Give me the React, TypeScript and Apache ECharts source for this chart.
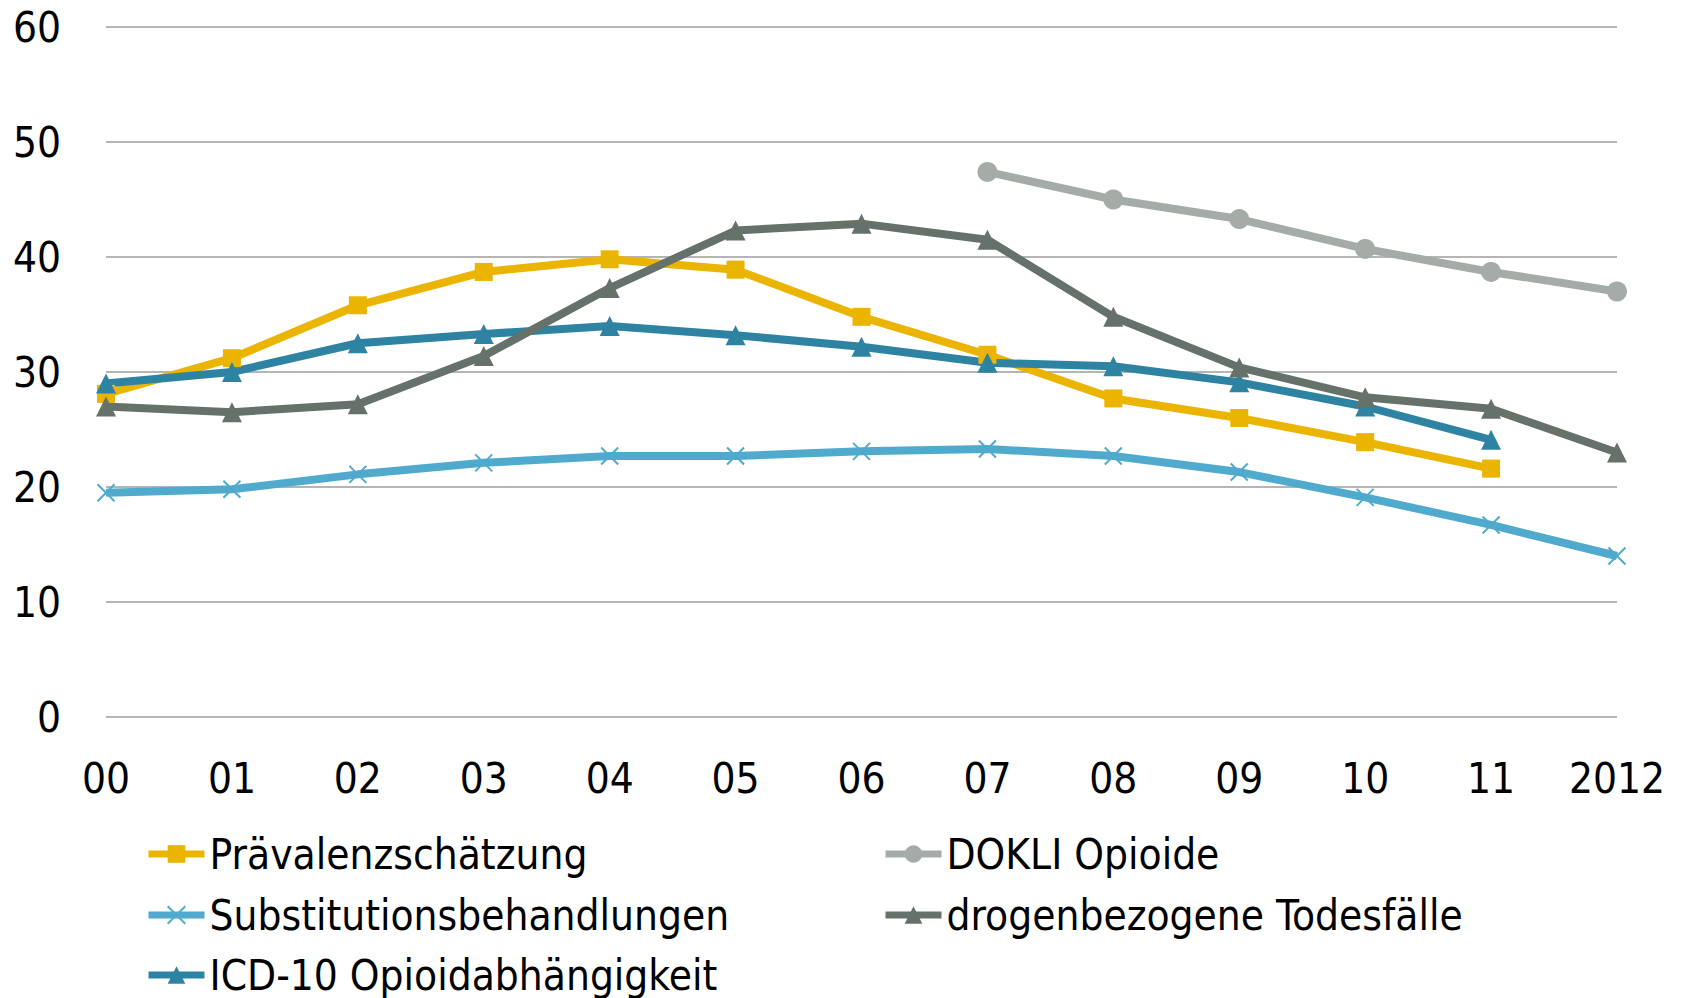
import React, { useEffect, useRef } from "react";
import * as echarts from "echarts";

const categories = ["00", "01", "02", "03", "04", "05", "06", "07", "08", "09", "10", "11", "2012"];
const yTicks = [0, 10, 20, 30, 40, 50, 60];

const praevalenz = [28.1, 31.2, 35.8, 38.7, 39.8, 38.9, 34.8, 31.5, 27.7, 26.0, 23.9, 21.6, null];
const dokli = [null, null, null, null, null, null, null, 47.4, 45.0, 43.3, 40.7, 38.7, 37.0];
const substitution = [19.5, 19.8, 21.1, 22.1, 22.7, 22.7, 23.1, 23.3, 22.7, 21.3, 19.1, 16.7, 14.0];
const todesfaelle = [27.0, 26.5, 27.2, 31.4, 37.3, 42.3, 42.9, 41.5, 34.8, 30.4, 27.8, 26.8, 23.0];
const icd10 = [29.0, 30.0, 32.5, 33.3, 34.0, 33.2, 32.2, 30.8, 30.5, 29.1, 27.0, 24.1, null];

const seriesNames = [
  "Prävalenzschätzung",
  "DOKLI Opioide",
  "Substitutionsbehandlungen",
  "drogenbezogene Todesfälle",
  "ICD-10 Opioidabhängigkeit",
];

const FONT = "'DejaVu Sans Condensed', 'Liberation Sans Narrow', sans-serif";
const FS = 42;

export default function App() {
  const ref = useRef<HTMLDivElement>(null);
  useEffect(() => {
    document.body.style.margin = "0";
    const chart = echarts.init(ref.current!, null, { renderer: "svg" });
    const mk = (name: string, data: any[], color: string, symbol: string, size: number, extra: any = {}) => ({
      name,
      type: "line",
      data,
      symbol,
      symbolSize: size,
      showSymbol: true,
      connectNulls: false,
      lineStyle: { color, width: 8 },
      itemStyle: { color, ...extra },
      z: 2,
    });
    const legendPos: [string, number, number][] = [
      [seriesNames[0], 145, 854],
      [seriesNames[2], 145, 915],
      [seriesNames[4], 145, 975],
      [seriesNames[1], 882, 854],
      [seriesNames[3], 882, 915],
    ];
    chart.setOption({
      animation: false,
      textStyle: { fontFamily: FONT },
      grid: { left: 106, right: 65, top: 27, bottom: 281 },
      xAxis: {
        type: "category",
        data: categories,
        boundaryGap: false,
        axisLine: { show: false },
        axisTick: { show: false },
        axisLabel: { color: "#000", fontSize: FS, fontFamily: FONT, margin: 40, interval: 0 },
      },
      yAxis: {
        type: "value",
        min: yTicks[0],
        max: yTicks[yTicks.length - 1],
        interval: 10,
        axisLine: { show: false },
        axisTick: { show: false },
        axisLabel: { color: "#000", fontSize: FS, fontFamily: FONT, margin: 45 },
        splitLine: { lineStyle: { color: "#B5B5B5", width: 2 } },
      },
      legend: legendPos.map(([name, left, cy]) => ({
        orient: "horizontal",
        left,
        top: cy - 21,
        itemWidth: 56,
        itemHeight: 22,
        padding: 0,
        data: [name],
        lineStyle: { width: 7 },
        textStyle: { color: "#000", fontSize: FS, fontFamily: FONT, lineHeight: 42 },
      })),
      series: [
        mk(seriesNames[1], dokli, "#A5ACA7", "circle", 20),
        mk(seriesNames[2], substitution, "#4FAACD", "path://M0,0 L10,10 M10,0 L0,10", 17, {
          borderColor: "#4FAACD",
          borderWidth: 2,
        }),
        mk(seriesNames[0], praevalenz, "#EAB400", "rect", 18),
        mk(seriesNames[4], icd10, "#2E83A3", "triangle", 20),
        mk(seriesNames[3], todesfaelle, "#66716A", "triangle", 20),
      ],
    });
    return () => chart.dispose();
  }, []);
  return <div ref={ref} style={{ width: 1682, height: 998 }} />;
}
